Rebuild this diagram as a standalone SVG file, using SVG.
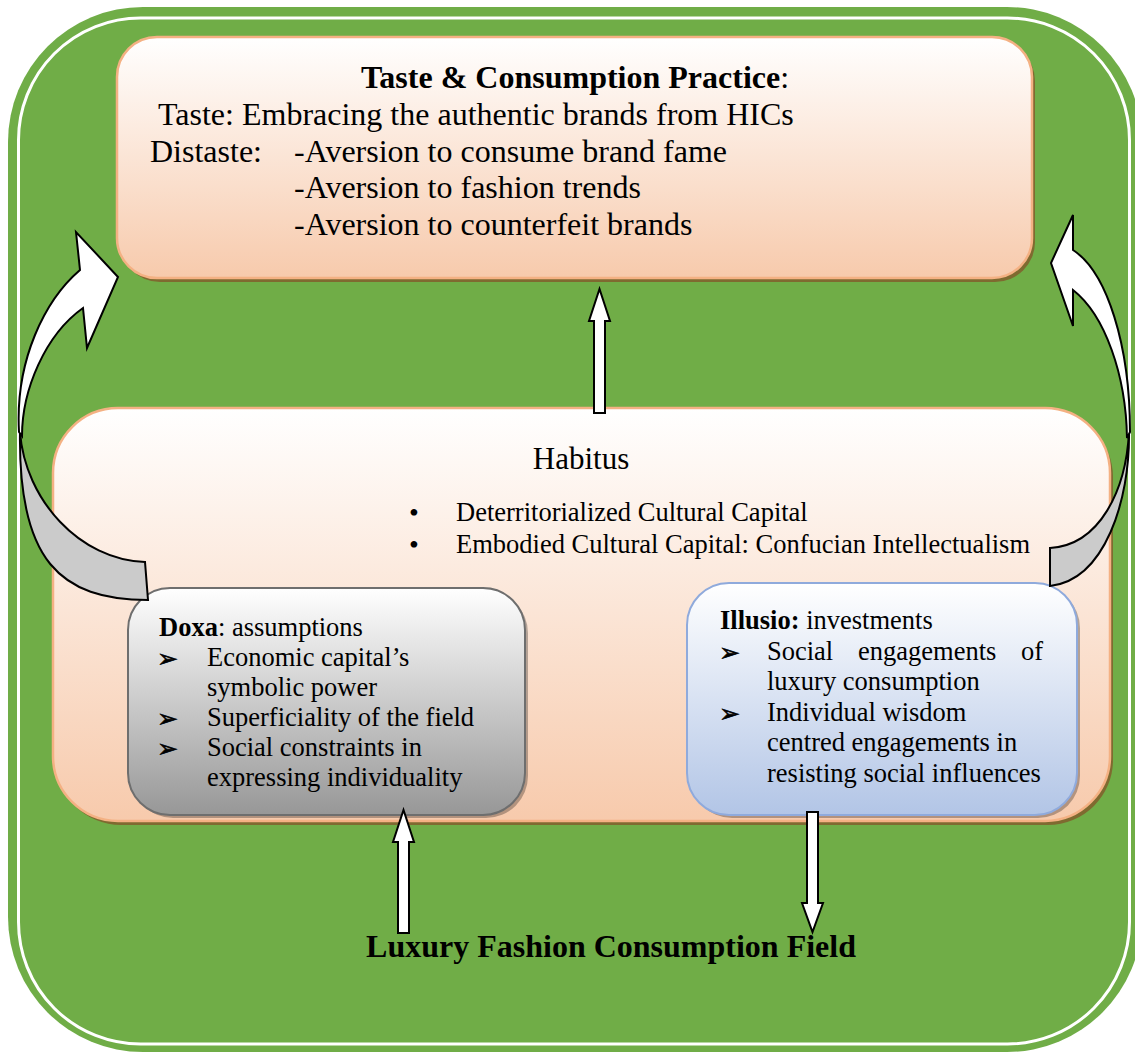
<svg xmlns="http://www.w3.org/2000/svg" width="1135" height="1054" viewBox="0 0 1135 1054">
  <defs>
    <linearGradient id="gPeach" x1="0" y1="0" x2="0" y2="1">
      <stop offset="0" stop-color="#FFFFFF"/>
      <stop offset="1" stop-color="#F7CAAC"/>
    </linearGradient>
    <linearGradient id="gGray" x1="0" y1="0" x2="0" y2="1">
      <stop offset="0" stop-color="#FFFFFF"/>
      <stop offset="1" stop-color="#979797"/>
    </linearGradient>
    <linearGradient id="gBlue" x1="0" y1="0" x2="0" y2="1">
      <stop offset="0" stop-color="#FFFFFF"/>
      <stop offset="1" stop-color="#B2C5E6"/>
    </linearGradient>
  </defs>
  <style>
    text { font-family: "Liberation Serif", "Times New Roman", serif; fill: #000; }
    .big { font-size: 32px; }
    .mid { font-size: 26.5px; }
    .b { font-weight: bold; }
    .arr { font-family: "DejaVu Sans", sans-serif; font-size: 25px; stroke: #000; stroke-width: 0.6; }
    .dot { font-size: 28px; }
    .conn { fill: #FFFFFF; stroke: #000; stroke-width: 2; stroke-linejoin: miter; }
    .connGray { fill: #CBCBCB; stroke: #000; stroke-width: 2; }
    .peach { fill: url(#gPeach); stroke: #F4B183; stroke-width: 2.5; }
  </style>

  <g id="frame">
    <rect x="8" y="7" width="1134" height="1045" rx="135" ry="135" fill="#70AD47"/>
    <rect x="18.5" y="18" width="1111" height="1026" rx="122" ry="122" fill="none" stroke="#FFFFFF" stroke-width="3"/>
  </g>

  <g id="taste-box">
    <rect x="120" y="41" width="915" height="241" rx="40" ry="40" fill="#7F6A30"/>
    <rect x="117" y="37" width="915" height="241" rx="40" ry="40" class="peach"/>
    <text class="big" x="575" y="88" text-anchor="middle"><tspan class="b">Taste &amp; Consumption Practice</tspan>:</text>
    <text class="big" x="158" y="125">Taste: Embracing the authentic brands from HICs</text>
    <text class="big" x="150" y="162">Distaste:</text>
    <text class="big" x="294" y="162">-Aversion to consume brand fame</text>
    <text class="big" x="294" y="198">-Aversion to fashion trends</text>
    <text class="big" x="294" y="235">-Aversion to counterfeit brands</text>
  </g>

  <g id="habitus-box">
    <rect x="56" y="412" width="1057" height="413" rx="65" ry="65" fill="#7F6A30"/>
    <rect x="53" y="408" width="1057" height="413" rx="65" ry="65" class="peach"/>
    <text x="581" y="469" text-anchor="middle" style="font-size:31px">Habitus</text>
    <text class="dot" x="414" y="522" text-anchor="middle">•</text>
    <text class="mid" x="456" y="521">Deterritorialized Cultural Capital</text>
    <text class="dot" x="414" y="554" text-anchor="middle">•</text>
    <text class="mid" x="456" y="553">Embodied Cultural Capital: Confucian Intellectualism</text>
  </g>

  <g id="doxa-box">
    <rect x="131" y="591" width="397" height="227" rx="42" ry="42" fill="#000" opacity="0.28"/>
    <rect x="128" y="588" width="397" height="227" rx="42" ry="42" fill="url(#gGray)" stroke="#6E6E6E" stroke-width="2"/>
    <text class="mid" x="159" y="636"><tspan class="b">Doxa</tspan>: assumptions</text>
    <text class="arr" x="157" y="667">➢</text>
    <text class="mid" x="207" y="666">Economic capital’s</text>
    <text class="mid" x="207" y="696">symbolic power</text>
    <text class="arr" x="157" y="727">➢</text>
    <text class="mid" x="207" y="726">Superficiality of the field</text>
    <text class="arr" x="157" y="757">➢</text>
    <text class="mid" x="207" y="756">Social constraints in</text>
    <text class="mid" x="207" y="786">expressing individuality</text>
  </g>

  <g id="illusio-box">
    <rect x="690" y="586" width="390" height="232" rx="42" ry="42" fill="#000" opacity="0.28"/>
    <rect x="687" y="583" width="390" height="232" rx="42" ry="42" fill="url(#gBlue)" stroke="#8FAADC" stroke-width="2"/>
    <text class="mid" x="720" y="629"><tspan class="b">Illusio:</tspan> investments</text>
    <text class="arr" x="719" y="661">➢</text>
    <text class="mid" x="767" y="660">Social</text>
    <text class="mid" x="858" y="660">engagements</text>
    <text class="mid" x="1043" y="660" text-anchor="end">of</text>
    <text class="mid" x="767" y="690">luxury consumption</text>
    <text class="arr" x="719" y="722">➢</text>
    <text class="mid" x="767" y="721">Individual wisdom</text>
    <text class="mid" x="767" y="751">centred engagements in</text>
    <text class="mid" x="767" y="782">resisting social influences</text>
  </g>

  <g id="field-label">
    <text class="big b" x="611" y="957" text-anchor="middle">Luxury Fashion Consumption Field</text>
  </g>

  <g id="connectors">
    <!-- left curved arrow: doxa -> taste -->
    <path class="connGray" d="M20,432 C25,500 80,560 145,562 L148,600 C60,600 18,560 20,432 Z"/>
    <path class="conn" d="M19,432 C15,360 45,300 80,270 L76,232 L118,277 L87,348 L83,308 C45,335 22,390 22,436 Z"/>
    <!-- right curved arrow: illusio -> taste -->
    <path class="connGray" d="M1129,432 C1130,500 1105,580 1050,586 L1050,548 C1100,545 1126,490 1129,432 Z"/>
    <path class="conn" d="M1127,438 C1126,375 1105,315 1073,290 L1073,326 L1051,263 L1073,215 L1073,250 C1107,272 1130,345 1130,432 Z"/>
    <!-- habitus -> taste -->
    <path class="conn" d="M594,413 L594,321 L589,321 L599.5,289 L610,321 L605,321 L605,413 Z"/>
    <!-- field -> doxa -->
    <path class="conn" d="M398,933 L398,842 L393,842 L403.5,810 L414,842 L409,842 L409,933 Z"/>
    <!-- illusio -> field -->
    <path class="conn" d="M807,812 L818,812 L818,903 L823,903 L812.5,932 L802,903 L807,903 Z"/>
  </g>
</svg>
